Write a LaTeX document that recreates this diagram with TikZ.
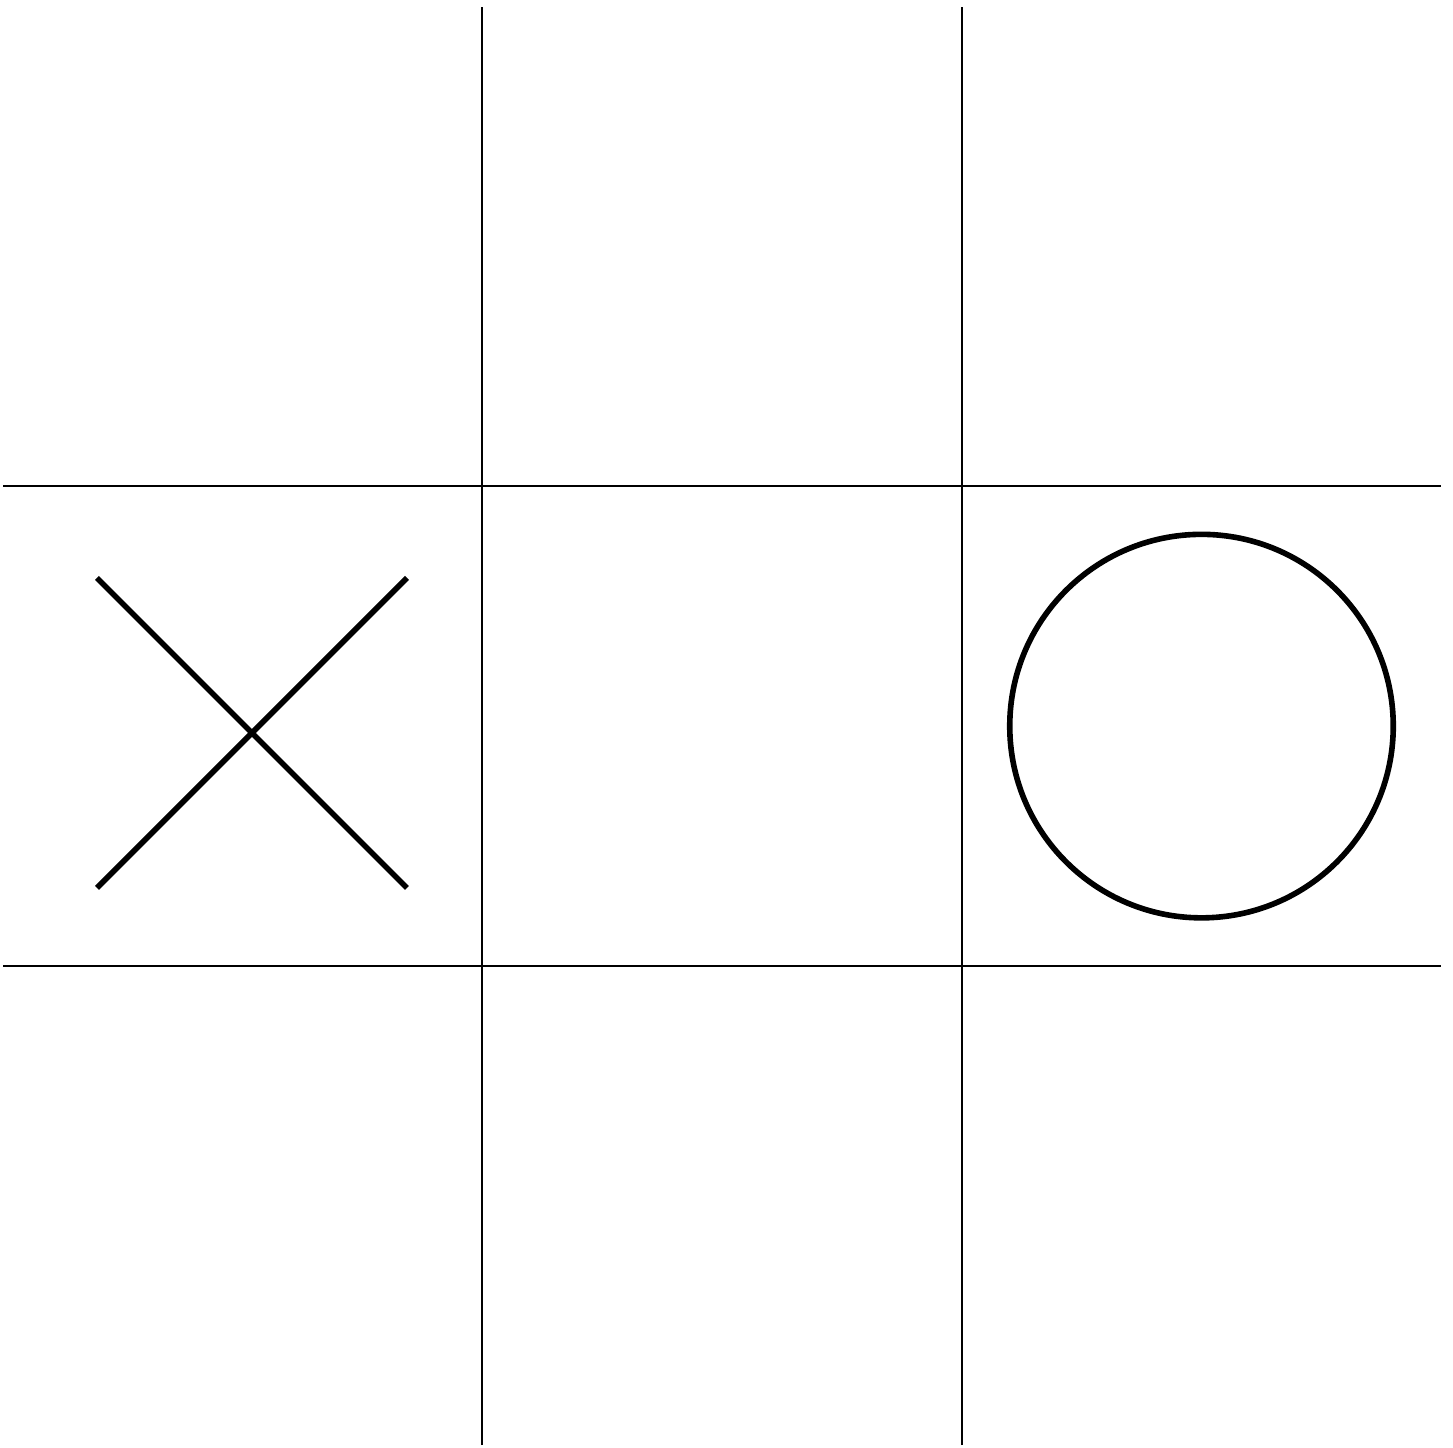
\documentclass[tikz,border=0pt]{standalone}
\usepackage{tikz}
\usetikzlibrary{calc}

\begin{document}
\begin{tikzpicture}[
  boardline/.style={black,line width=0.35pt},
  crossline/.style={black,line width=1pt},
  noughtline/.style={black,line width=1pt}]
\useasboundingbox (-0.019,-0.0125) rectangle (9.074,9.044);
% --- board ---
  \foreach \k in {3,6} {
    \draw[boardline] (\k,0) -- (\k,9);
    \draw[boardline] (0,\k) -- (9,\k);
  }
% --- moves ---
  \coordinate (xc) at (1.558,4.457);
  \coordinate (oc) at (7.5,4.5);
  \draw[crossline] ($(xc)+(-0.97,0.97)$) -- ($(xc)+(0.97,-0.97)$);
  \draw[crossline] ($(xc)+(-0.97,-0.97)$) -- ($(xc)+(0.97,0.97)$);
  \draw[noughtline] (oc) circle (1.2);
\end{tikzpicture}
\end{document}
